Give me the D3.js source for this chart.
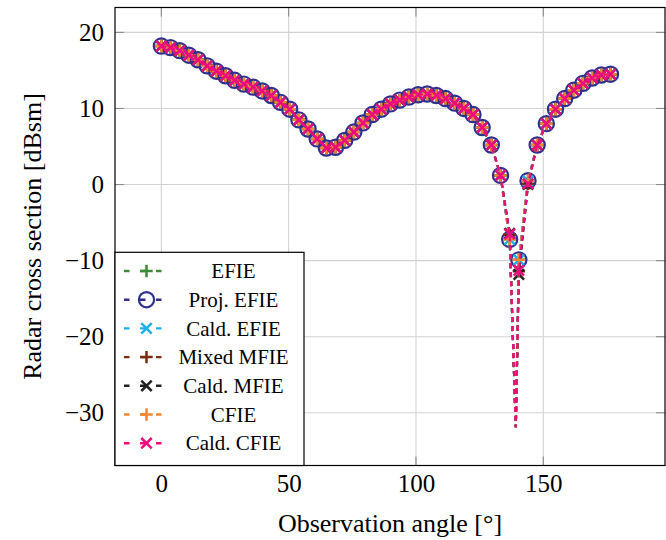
<!DOCTYPE html>
<html><head><meta charset="utf-8">
<script src="https://cdn.jsdelivr.net/npm/d3@7"></script>
<style>body{margin:0;background:#fff}</style>
</head><body>
<svg id="c" width="666" height="540"></svg>
<script>
// ---- data ----
const angles = [0,3.6,7.2,10.8,14.4,18,21.6,25.2,28.8,32.4,36,39.6,43.2,46.8,50.4,54,57.6,61.2,64.8,68.4,
  72,75.6,79.2,82.8,86.4,90,93.6,97.2,100.8,104.4,108,111.6,115.2,118.8,122.4,126,129.6,133.2,136.8,140.4,
  144,147.6,151.2,154.8,158.4,162,165.6,169.2,172.8,176.4];
const rcsBase = [18.2,18.0,17.6,17.0,16.4,15.6,14.9,14.3,13.7,13.2,12.8,12.3,11.7,10.8,9.9,8.5,7.3,6.0,4.8,4.9,
  5.8,6.9,8.1,9.2,9.9,10.6,11.1,11.5,11.8,11.9,11.7,11.3,10.7,10.0,9.2,7.5,5.2,1.2,-7.2,-9.9,
  0.5,5.2,8.0,9.9,11.3,12.4,13.3,14.0,14.4,14.5];
const nullAngles = [138.0, 139.2];
const nullRCS = [-19.5, -31.9];
const nearNullAngles = [136.8, 140.4, 144.0];
const seriesNames = ["EFIE","Proj. EFIE","Cald. EFIE","Mixed MFIE","Cald. MFIE","CFIE","Cald. CFIE"];
const seriesColors = ["#3d8b37","#2e2f8e","#1ab0ea","#7a2e0e","#222222","#f28532","#ec0c80"];
const seriesMarks = ["plus","circle","cross","plus","cross","plus","cross"];
const nearNullEFIE = [-7.2,-9.9,0.5];
const nearNullProj = [-7.2,-9.9,0.5];
const nearNullCaldEFIE = [-7.2,-9.9,0.5];
const nearNullMixed = [-6.6,-11.4,0.1];
const nearNullCaldMFIE = [-6.4,-11.8,0.0];
const nearNullCFIE = [-7.2,-9.9,0.5];
const nearNullCaldCFIE = [-6.5,-11.3,0.1];
const nearNullAll = [nearNullEFIE,nearNullProj,nearNullCaldEFIE,nearNullMixed,nearNullCaldMFIE,nearNullCFIE,nearNullCaldCFIE];
const xTicks = [0,50,100,150];
const yTicks = [-30,-20,-10,0,10,20];
const xTitle = "Observation angle [°]";
const yTitle = "Radar cross section [dBsm]";

// ---- layout ----
const L = 115, R = 665, T = 7.5, B = 465.5;
const x = d3.scaleLinear().domain([-18.2, 197.8]).range([L, R]);
const y = d3.scaleLinear().domain([-36.93, 23.27]).range([B, T]);
const svg = d3.select("#c");
const FONT = "'Liberation Serif','Times New Roman',serif";

// grid
const grid = svg.append("g");
grid.selectAll(".gx").data(xTicks).join("line")
  .attr("x1", d => x(d)).attr("x2", d => x(d)).attr("y1", T).attr("y2", B)
  .attr("stroke", "#d2d2d2").attr("stroke-width", 1.1);
grid.selectAll(".gy").data(yTicks).join("line")
  .attr("y1", d => y(d)).attr("y2", d => y(d)).attr("x1", L).attr("x2", R)
  .attr("stroke", "#d2d2d2").attr("stroke-width", 1.1);
// inner ticks
const tk = svg.append("g").attr("stroke", "#8a8a8a").attr("stroke-width", 1.1);
xTicks.forEach(d => {
  tk.append("line").attr("x1", x(d)).attr("x2", x(d)).attr("y1", B).attr("y2", B - 9);
  tk.append("line").attr("x1", x(d)).attr("x2", x(d)).attr("y1", T).attr("y2", T + 9);
});
yTicks.forEach(d => {
  tk.append("line").attr("y1", y(d)).attr("y2", y(d)).attr("x1", L).attr("x2", L + 9);
  tk.append("line").attr("y1", y(d)).attr("y2", y(d)).attr("x1", R).attr("x2", R - 9);
});

// axes labels via d3 axes
const ax = svg.append("g").attr("transform", `translate(0,${B})`)
  .call(d3.axisBottom(x).tickValues(xTicks).tickSize(0).tickPadding(9));
const ay = svg.append("g").attr("transform", `translate(${L},0)`)
  .call(d3.axisLeft(y).tickValues(yTicks).tickSize(0).tickPadding(11));
[ax, ay].forEach(g => {
  g.select(".domain").remove();
  g.selectAll("text").attr("font-family", FONT).attr("font-size", 25).attr("fill", "#000");
});

// series
const markSym = {
  plus: h => `M${-h},0H${h}M0,${-h}V${h}`,
  cross: h => `M${-h},${-h}L${h},${h}M${-h},${h}L${h},${-h}`
};
function drawMarker(g, type, color, cx, cy) {
  if (type === "circle") {
    g.append("circle").attr("cx", cx).attr("cy", cy).attr("r", 7.6)
      .attr("fill", "none").attr("stroke", color).attr("stroke-width", 2.2);
  } else {
    const h = type === "plus" ? 6.2 : 5.2;
    g.append("path").attr("transform", `translate(${cx},${cy})`).attr("d", markSym[type](h))
      .attr("fill", "none").attr("stroke", color).attr("stroke-width", 2.5);
  }
}
const line = d3.line().x(d => x(d.a)).y(d => y(d.v));
const plot = svg.append("g");
seriesNames.forEach((name, s) => {
  const pts = angles.map((a, i) => {
    const k = nearNullAngles.indexOf(a);
    return { a, v: k >= 0 ? nearNullAll[s][k] : rcsBase[i], m: true };
  });
  nullAngles.forEach((a, i) => pts.push({ a, v: nullRCS[i], m: false }));
  pts.sort((p, q) => p.a - q.a);
  const g = plot.append("g");
  g.append("path").attr("d", line(pts)).attr("fill", "none")
    .attr("stroke", seriesColors[s]).attr("stroke-width", 2.2).attr("stroke-dasharray", "5,4");
  pts.filter(p => p.m).forEach(p => drawMarker(g, seriesMarks[s], seriesColors[s], x(p.a), y(p.v)));
});

// frame
svg.append("rect").attr("x", L).attr("y", T).attr("width", R - L).attr("height", B - T)
  .attr("fill", "none").attr("stroke", "#000").attr("stroke-width", 1.2);

// legend
const lg = svg.append("g");
lg.append("rect").attr("x", L).attr("y", 252.3).attr("width", 189).attr("height", B - 252.3)
  .attr("fill", "#fff").attr("stroke", "#000").attr("stroke-width", 1.2);
seriesNames.forEach((name, s) => {
  const yy = 271 + s * 28.7;
  lg.append("line").attr("x1", 124).attr("x2", 170).attr("y1", yy).attr("y2", yy)
    .attr("stroke", seriesColors[s]).attr("stroke-width", 2.4).attr("stroke-dasharray", "5.5,10.5");
  drawMarker(lg, seriesMarks[s], seriesColors[s], 146.5, yy);
  lg.append("text").attr("x", 233.5).attr("y", yy).attr("dy", "0.34em")
    .attr("text-anchor", "middle").attr("font-family", FONT).attr("font-size", 21).text(name);
});

// titles
svg.append("text").attr("x", (L + R) / 2).attr("y", 531.5).attr("text-anchor", "middle")
  .attr("font-family", FONT).attr("font-size", 26).text(xTitle);
svg.append("text").attr("transform", `translate(40.5,${(T + B) / 2}) rotate(-90)`)
  .attr("text-anchor", "middle").attr("font-family", FONT).attr("font-size", 26).text(yTitle);
</script>
</body></html>
